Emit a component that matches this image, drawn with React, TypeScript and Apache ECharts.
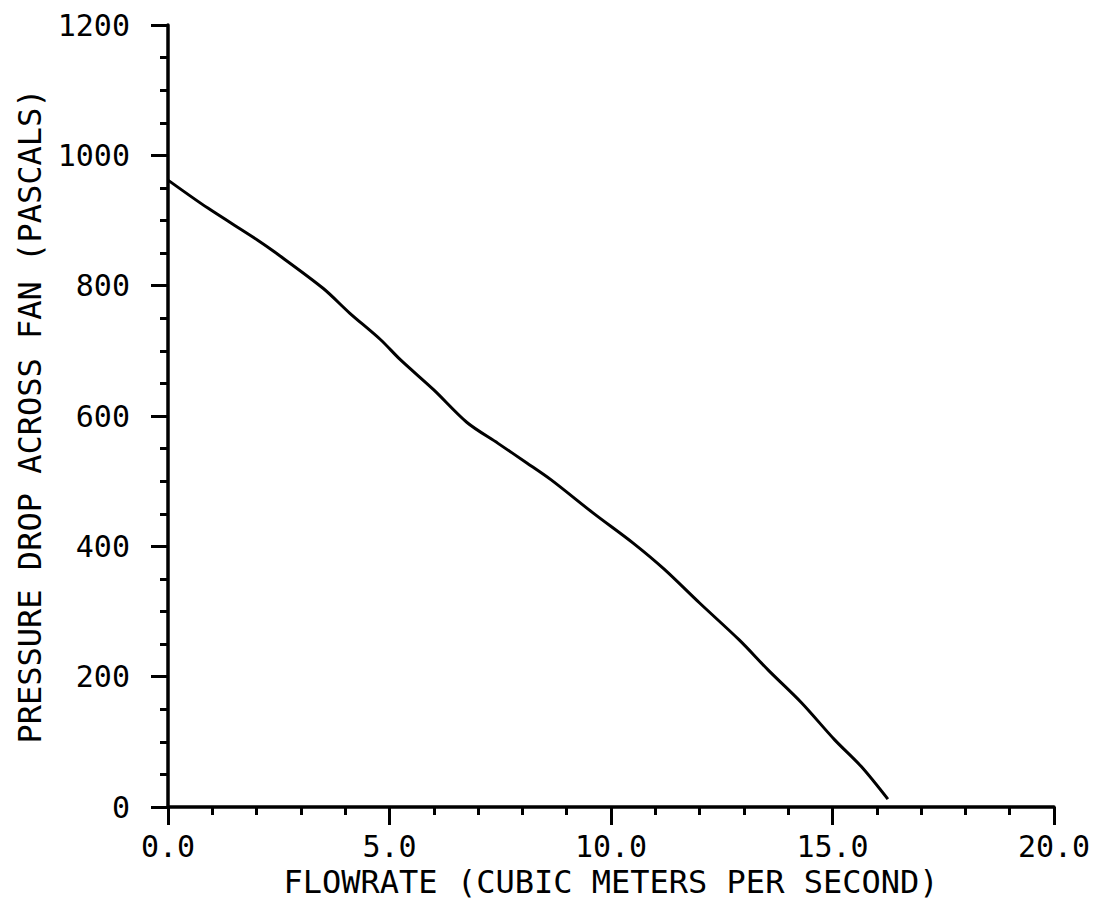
import React, { useEffect, useRef } from "react";
import * as echarts from "echarts";

const flowrate = [0, 0.9, 2.0, 2.4, 3.5, 4.1, 4.8, 5.25, 6.0, 6.75, 7.45, 8.1, 8.65, 9.6, 10.5, 11.2, 12.0, 12.9, 13.55, 14.3, 15.05, 15.65, 16.25];
const pressure = [962, 919, 871, 852, 796, 758, 717, 686, 640, 590, 558, 528, 502, 451, 405, 365, 313, 256, 210, 160, 103, 62, 12];

const xTitle = "FLOWRATE (CUBIC METERS PER SECOND)";
const yTitle = "PRESSURE DROP ACROSS FAN (PASCALS)";

const FONT = "DejaVu Sans Mono";

export default function App() {
  const ref = useRef<HTMLDivElement>(null);
  useEffect(() => {
    if (!ref.current) return;
    const chart = echarts.init(ref.current, undefined, { renderer: "svg" });
    const data = flowrate.map((x, i) => [x, pressure[i]]);
    const axisCommon = {
      axisLine: { show: true, lineStyle: { color: "#000", width: 3.5 } },
      axisTick: { show: true, inside: false, lineStyle: { color: "#000", width: 3 } },
      minorTick: { show: true, lineStyle: { color: "#000", width: 3 } },
      splitLine: { show: false },
      nameTextStyle: { color: "#000", fontFamily: FONT, fontSize: 32 },
    };
    chart.setOption({
      animation: false,
      backgroundColor: "#fff",
      grid: { left: 168, right: 45, top: 25, bottom: 95, containLabel: false, outerBoundsMode: "none" },
      xAxis: {
        type: "value",
        min: 0,
        max: 20,
        interval: 5,
        name: xTitle,
        nameLocation: "middle",
        nameGap: 55,
        ...axisCommon,
        axisTick: { ...axisCommon.axisTick, length: 18 },
        minorTick: { ...axisCommon.minorTick, splitNumber: 5, length: 8 },
        axisLabel: {
          color: "#000",
          fontFamily: FONT,
          fontSize: 30,
          margin: 24,
          formatter: (v: number) => v.toFixed(1),
        },
      },
      yAxis: {
        type: "value",
        min: 0,
        max: 1200,
        interval: 200,
        name: yTitle,
        nameLocation: "middle",
        nameGap: 122,
        ...axisCommon,
        axisTick: { ...axisCommon.axisTick, length: 17 },
        minorTick: { ...axisCommon.minorTick, splitNumber: 4, length: 8 },
        axisLabel: {
          color: "#000",
          fontFamily: FONT,
          fontSize: 30,
          margin: 38,
          formatter: (v: number) => String(v),
        },
      },
      series: [
        {
          type: "line",
          data,
          smooth: 0.3,
          showSymbol: false,
          lineStyle: { color: "#000", width: 3 },
        },
      ],
    });
    return () => chart.dispose();
  }, []);
  return <div ref={ref} style={{ width: 1099, height: 902, position: "absolute", left: 0, top: 0 }} />;
}
